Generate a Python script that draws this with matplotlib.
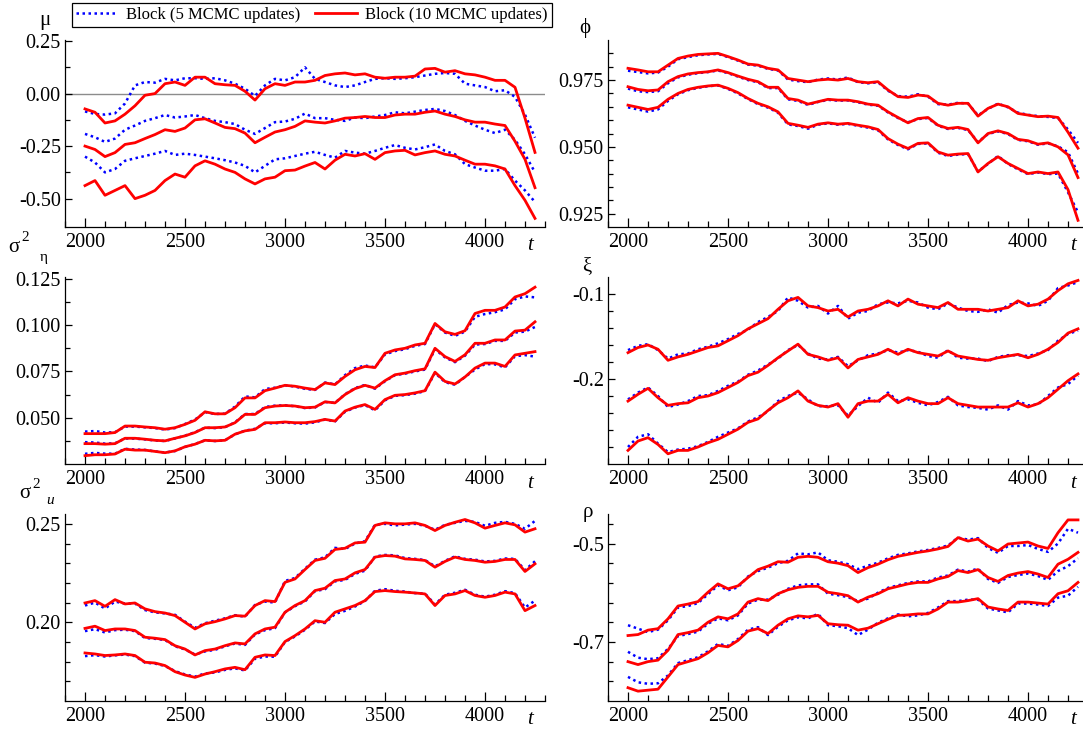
import matplotlib
matplotlib.use('Agg')
import matplotlib.pyplot as plt
import matplotlib.ticker as ticker
from matplotlib.lines import Line2D

plt.rcParams['font.family'] = ['Liberation Serif', 'DejaVu Serif']
plt.rcParams['axes.unicode_minus'] = False

# time grid (every 50 steps)
T = [2000, 2050, 2100, 2150, 2200, 2250, 2300, 2350, 2400, 2450,
     2500, 2550, 2600, 2650, 2700, 2750, 2800, 2850, 2900, 2950,
     3000, 3050, 3100, 3150, 3200, 3250, 3300, 3350, 3400, 3450,
     3500, 3550, 3600, 3650, 3700, 3750, 3800, 3850, 3900, 3950,
     4000, 4050, 4100, 4150, 4200, 4250]

# ---- mu ----
mu_red_hi = [-0.073, -0.089, -0.140, -0.130, -0.098, -0.058, -0.008, 0.000, 0.047, 0.055,
             0.039, 0.078, 0.078, 0.047, 0.042, 0.039, 0.011, -0.031, 0.023, 0.047,
             0.039, 0.055, 0.055, 0.063, 0.086, 0.094, 0.098, 0.089, 0.094, 0.078,
             0.073, 0.078, 0.078, 0.083, 0.117, 0.120, 0.102, 0.109, 0.094, 0.089,
             0.078, 0.063, 0.063, 0.030, -0.117, -0.280]
mu_blue_hi = [-0.085, -0.097, -0.100, -0.094, -0.047, 0.039, 0.055, 0.052, 0.070, 0.063,
              0.073, 0.073, 0.070, 0.073, 0.063, 0.047, 0.023, -0.011, 0.039, 0.070,
              0.063, 0.078, 0.125, 0.070, 0.055, 0.039, 0.031, 0.039, 0.055, 0.070,
              0.073, 0.070, 0.073, 0.078, 0.086, 0.094, 0.098, 0.094, 0.047, 0.039,
              0.031, 0.011, 0.016, -0.016, -0.100, -0.210]
mu_red_mid = [-0.250, -0.266, -0.300, -0.281, -0.242, -0.234, -0.214, -0.195, -0.172, -0.180,
              -0.164, -0.125, -0.120, -0.140, -0.161, -0.167, -0.188, -0.234, -0.208, -0.183,
              -0.172, -0.156, -0.130, -0.136, -0.140, -0.130, -0.117, -0.114, -0.109, -0.114,
              -0.114, -0.102, -0.098, -0.098, -0.089, -0.083, -0.098, -0.109, -0.125, -0.136,
              -0.136, -0.145, -0.152, -0.227, -0.313, -0.448]
mu_blue_mid = [-0.192, -0.208, -0.230, -0.214, -0.172, -0.152, -0.130, -0.117, -0.102, -0.114,
               -0.109, -0.102, -0.117, -0.130, -0.136, -0.145, -0.172, -0.192, -0.164, -0.136,
               -0.133, -0.120, -0.095, -0.117, -0.117, -0.125, -0.130, -0.114, -0.117, -0.109,
               -0.102, -0.089, -0.094, -0.086, -0.078, -0.073, -0.083, -0.102, -0.130, -0.152,
               -0.172, -0.188, -0.172, -0.220, -0.289, -0.375]
mu_red_lo = [-0.438, -0.414, -0.484, -0.461, -0.438, -0.500, -0.484, -0.461, -0.414, -0.383,
             -0.398, -0.344, -0.320, -0.336, -0.359, -0.375, -0.406, -0.430, -0.406, -0.398,
             -0.367, -0.364, -0.345, -0.328, -0.359, -0.317, -0.289, -0.297, -0.286, -0.313,
             -0.281, -0.273, -0.270, -0.292, -0.281, -0.273, -0.289, -0.297, -0.317, -0.336,
             -0.336, -0.344, -0.359, -0.438, -0.508, -0.594]
mu_blue_lo = [-0.300, -0.328, -0.375, -0.359, -0.320, -0.308, -0.297, -0.286, -0.273, -0.292,
              -0.286, -0.292, -0.300, -0.308, -0.317, -0.328, -0.344, -0.375, -0.344, -0.313,
              -0.308, -0.297, -0.286, -0.277, -0.292, -0.305, -0.273, -0.281, -0.286, -0.273,
              -0.258, -0.245, -0.258, -0.266, -0.255, -0.242, -0.273, -0.289, -0.336, -0.352,
              -0.367, -0.367, -0.359, -0.414, -0.461, -0.516]

# ---- phi ----
phi_red_hi = [0.9794, 0.9788, 0.9781, 0.9781, 0.9806, 0.9831, 0.9840, 0.9846, 0.9848, 0.9850,
              0.9838, 0.9825, 0.9810, 0.9806, 0.9794, 0.9788, 0.9756, 0.9750, 0.9744, 0.9750,
              0.9753, 0.9750, 0.9756, 0.9744, 0.9740, 0.9744, 0.9713, 0.9688, 0.9685, 0.9694,
              0.9690, 0.9663, 0.9656, 0.9663, 0.9663, 0.9615, 0.9644, 0.9660, 0.9650, 0.9625,
              0.9619, 0.9613, 0.9615, 0.9610, 0.9555, 0.9495]
phi_blue_hi = [0.9785, 0.9780, 0.9775, 0.9778, 0.9800, 0.9828, 0.9836, 0.9843, 0.9846, 0.9848,
               0.9836, 0.9823, 0.9808, 0.9804, 0.9792, 0.9786, 0.9752, 0.9746, 0.9742, 0.9752,
               0.9756, 0.9752, 0.9760, 0.9742, 0.9738, 0.9742, 0.9710, 0.9690, 0.9688, 0.9697,
               0.9688, 0.9660, 0.9658, 0.9665, 0.9662, 0.9618, 0.9642, 0.9662, 0.9648, 0.9628,
               0.9620, 0.9615, 0.9612, 0.9608, 0.9565, 0.9515]
phi_red_mid = [0.9725, 0.9715, 0.9710, 0.9713, 0.9744, 0.9763, 0.9773, 0.9778, 0.9781, 0.9788,
               0.9778, 0.9765, 0.9753, 0.9744, 0.9723, 0.9723, 0.9681, 0.9675, 0.9660, 0.9669,
               0.9678, 0.9675, 0.9675, 0.9669, 0.9660, 0.9656, 0.9631, 0.9610, 0.9590, 0.9606,
               0.9610, 0.9581, 0.9569, 0.9573, 0.9565, 0.9515, 0.9550, 0.9560, 0.9550, 0.9528,
               0.9523, 0.9510, 0.9515, 0.9500, 0.9470, 0.9385]
phi_blue_mid = [0.9718, 0.9708, 0.9705, 0.9708, 0.9738, 0.9760, 0.9770, 0.9776, 0.9780, 0.9786,
                0.9776, 0.9763, 0.9750, 0.9742, 0.9720, 0.9720, 0.9678, 0.9672, 0.9657, 0.9668,
                0.9676, 0.9673, 0.9674, 0.9667, 0.9658, 0.9654, 0.9629, 0.9608, 0.9592, 0.9604,
                0.9608, 0.9579, 0.9567, 0.9571, 0.9563, 0.9518, 0.9548, 0.9558, 0.9548, 0.9526,
                0.9521, 0.9508, 0.9513, 0.9502, 0.9480, 0.9400]
phi_red_lo = [0.9656, 0.9648, 0.9640, 0.9648, 0.9678, 0.9700, 0.9715, 0.9723, 0.9728, 0.9731,
              0.9719, 0.9703, 0.9681, 0.9663, 0.9650, 0.9631, 0.9588, 0.9581, 0.9573, 0.9585,
              0.9590, 0.9585, 0.9588, 0.9581, 0.9575, 0.9565, 0.9531, 0.9510, 0.9494, 0.9513,
              0.9515, 0.9481, 0.9469, 0.9473, 0.9475, 0.9406, 0.9438, 0.9463, 0.9438, 0.9419,
              0.9400, 0.9406, 0.9400, 0.9406, 0.9340, 0.9225]
phi_blue_lo = [0.9648, 0.9640, 0.9632, 0.9640, 0.9672, 0.9697, 0.9712, 0.9721, 0.9727, 0.9730,
               0.9717, 0.9700, 0.9679, 0.9660, 0.9647, 0.9628, 0.9584, 0.9578, 0.9568, 0.9583,
               0.9588, 0.9583, 0.9586, 0.9579, 0.9572, 0.9562, 0.9528, 0.9507, 0.9491, 0.9511,
               0.9513, 0.9478, 0.9466, 0.9471, 0.9473, 0.9408, 0.9436, 0.9466, 0.9436, 0.9416,
               0.9398, 0.9404, 0.9398, 0.9400, 0.9330, 0.9255]

# ---- sigma^2_eta ----
seta_red_hi = [0.0414, 0.0414, 0.0414, 0.0420, 0.0455, 0.0455, 0.0450, 0.0446, 0.0438, 0.0446,
               0.0464, 0.0486, 0.0532, 0.0521, 0.0521, 0.0554, 0.0607, 0.0607, 0.0646, 0.0660,
               0.0675, 0.0670, 0.0660, 0.0652, 0.0688, 0.0679, 0.0723, 0.0759, 0.0777, 0.0771,
               0.0848, 0.0866, 0.0875, 0.0893, 0.0902, 0.1009, 0.0964, 0.0950, 0.0970, 0.1063,
               0.1080, 0.1080, 0.1098, 0.1152, 0.1170, 0.1205]
seta_blue_hi = [0.0425, 0.0428, 0.0420, 0.0422, 0.0452, 0.0452, 0.0448, 0.0444, 0.0436, 0.0444,
                0.0466, 0.0490, 0.0530, 0.0520, 0.0522, 0.0560, 0.0615, 0.0610, 0.0655, 0.0662,
                0.0675, 0.0668, 0.0656, 0.0650, 0.0690, 0.0680, 0.0730, 0.0768, 0.0782, 0.0772,
                0.0842, 0.0860, 0.0870, 0.0888, 0.0898, 0.1005, 0.0960, 0.0942, 0.0965, 0.1045,
                0.1060, 0.1070, 0.1085, 0.1140, 0.1155, 0.1150]
seta_red_mid = [0.0360, 0.0360, 0.0357, 0.0360, 0.0389, 0.0389, 0.0384, 0.0378, 0.0375, 0.0389,
                0.0402, 0.0420, 0.0446, 0.0446, 0.0450, 0.0473, 0.0518, 0.0518, 0.0554, 0.0563,
                0.0566, 0.0563, 0.0554, 0.0557, 0.0586, 0.0580, 0.0625, 0.0657, 0.0675, 0.0660,
                0.0700, 0.0732, 0.0741, 0.0754, 0.0764, 0.0875, 0.0830, 0.0804, 0.0840, 0.0902,
                0.0902, 0.0920, 0.0920, 0.0968, 0.0973, 0.1018]
seta_blue_mid = [0.0368, 0.0366, 0.0360, 0.0362, 0.0388, 0.0387, 0.0383, 0.0377, 0.0374, 0.0388,
                 0.0403, 0.0422, 0.0446, 0.0444, 0.0449, 0.0475, 0.0520, 0.0520, 0.0558, 0.0565,
                 0.0567, 0.0562, 0.0552, 0.0555, 0.0585, 0.0580, 0.0627, 0.0660, 0.0677, 0.0657,
                 0.0697, 0.0730, 0.0738, 0.0750, 0.0760, 0.0870, 0.0826, 0.0800, 0.0835, 0.0895,
                 0.0898, 0.0915, 0.0915, 0.0960, 0.0965, 0.0990]
seta_red_lo = [0.0295, 0.0300, 0.0300, 0.0304, 0.0330, 0.0325, 0.0325, 0.0318, 0.0311, 0.0321,
               0.0343, 0.0357, 0.0378, 0.0375, 0.0378, 0.0411, 0.0429, 0.0437, 0.0473, 0.0473,
               0.0477, 0.0473, 0.0473, 0.0479, 0.0491, 0.0482, 0.0536, 0.0557, 0.0571, 0.0545,
               0.0598, 0.0621, 0.0625, 0.0634, 0.0646, 0.0746, 0.0696, 0.0682, 0.0720, 0.0768,
               0.0795, 0.0795, 0.0777, 0.0839, 0.0848, 0.0857]
seta_blue_lo = [0.0305, 0.0310, 0.0306, 0.0306, 0.0332, 0.0328, 0.0326, 0.0318, 0.0312, 0.0320,
                0.0342, 0.0358, 0.0378, 0.0374, 0.0378, 0.0410, 0.0430, 0.0440, 0.0470, 0.0470,
                0.0474, 0.0470, 0.0468, 0.0475, 0.0490, 0.0480, 0.0532, 0.0555, 0.0568, 0.0540,
                0.0594, 0.0618, 0.0622, 0.0630, 0.0644, 0.0742, 0.0692, 0.0678, 0.0720, 0.0760,
                0.0790, 0.0788, 0.0772, 0.0832, 0.0838, 0.0830]

# ---- xi ----
xi_red_hi = [-0.169, -0.163, -0.160, -0.165, -0.178, -0.174, -0.171, -0.167, -0.163, -0.161,
             -0.155, -0.149, -0.141, -0.135, -0.129, -0.118, -0.108, -0.104, -0.114, -0.116,
             -0.120, -0.118, -0.127, -0.120, -0.118, -0.114, -0.108, -0.114, -0.106, -0.112,
             -0.114, -0.116, -0.110, -0.118, -0.118, -0.118, -0.120, -0.118, -0.116, -0.108,
             -0.114, -0.112, -0.106, -0.096, -0.088, -0.084]
xi_blue_hi = [-0.166, -0.161, -0.159, -0.166, -0.176, -0.171, -0.170, -0.165, -0.162, -0.158,
              -0.153, -0.147, -0.142, -0.133, -0.127, -0.120, -0.104, -0.108, -0.116, -0.114,
              -0.123, -0.114, -0.129, -0.122, -0.120, -0.112, -0.110, -0.111, -0.108, -0.110,
              -0.116, -0.118, -0.111, -0.116, -0.120, -0.121, -0.118, -0.122, -0.113, -0.110,
              -0.111, -0.114, -0.108, -0.093, -0.090, -0.086]
xi_red_mid = [-0.226, -0.218, -0.211, -0.222, -0.231, -0.229, -0.228, -0.222, -0.220, -0.216,
              -0.210, -0.204, -0.196, -0.192, -0.184, -0.175, -0.167, -0.159, -0.171, -0.174,
              -0.178, -0.175, -0.187, -0.177, -0.174, -0.171, -0.165, -0.171, -0.165, -0.169,
              -0.171, -0.173, -0.167, -0.173, -0.175, -0.177, -0.178, -0.175, -0.173, -0.171,
              -0.175, -0.171, -0.165, -0.157, -0.146, -0.141]
xi_blue_mid = [-0.224, -0.216, -0.210, -0.220, -0.233, -0.230, -0.226, -0.220, -0.219, -0.214,
               -0.208, -0.203, -0.195, -0.190, -0.183, -0.176, -0.166, -0.160, -0.170, -0.176,
               -0.177, -0.174, -0.185, -0.178, -0.172, -0.170, -0.166, -0.169, -0.166, -0.168,
               -0.173, -0.175, -0.166, -0.175, -0.176, -0.176, -0.179, -0.174, -0.172, -0.172,
               -0.173, -0.170, -0.166, -0.155, -0.147, -0.143]
xi_red_lo = [-0.284, -0.273, -0.269, -0.277, -0.288, -0.284, -0.284, -0.280, -0.275, -0.271,
             -0.265, -0.259, -0.251, -0.247, -0.237, -0.228, -0.222, -0.214, -0.226, -0.231,
             -0.233, -0.229, -0.245, -0.229, -0.226, -0.226, -0.218, -0.228, -0.222, -0.226,
             -0.229, -0.229, -0.222, -0.229, -0.231, -0.233, -0.233, -0.233, -0.233, -0.228,
             -0.233, -0.229, -0.222, -0.212, -0.202, -0.194]
xi_blue_lo = [-0.280, -0.268, -0.265, -0.276, -0.286, -0.283, -0.282, -0.279, -0.274, -0.268,
              -0.263, -0.258, -0.250, -0.245, -0.238, -0.226, -0.220, -0.216, -0.224, -0.232,
              -0.232, -0.231, -0.243, -0.232, -0.222, -0.228, -0.216, -0.226, -0.224, -0.228,
              -0.231, -0.227, -0.221, -0.231, -0.233, -0.234, -0.236, -0.231, -0.236, -0.226,
              -0.231, -0.230, -0.220, -0.210, -0.206, -0.196]

# ---- sigma^2_u ----
su_red_hi = [0.2098, 0.2110, 0.2081, 0.2115, 0.2093, 0.2098, 0.2068, 0.2054, 0.2047, 0.2034,
             0.2000, 0.1966, 0.1992, 0.2003, 0.2017, 0.2034, 0.2031, 0.2085, 0.2110, 0.2105,
             0.2203, 0.2220, 0.2268, 0.2314, 0.2325, 0.2370, 0.2376, 0.2403, 0.2407, 0.2492,
             0.2505, 0.2500, 0.2500, 0.2505, 0.2492, 0.2466, 0.2492, 0.2508, 0.2522, 0.2505,
             0.2478, 0.2492, 0.2505, 0.2495, 0.2458, 0.2475]
su_blue_hi = [0.2085, 0.2100, 0.2070, 0.2105, 0.2095, 0.2095, 0.2062, 0.2050, 0.2045, 0.2038,
              0.2003, 0.1972, 0.1995, 0.2008, 0.2020, 0.2036, 0.2028, 0.2088, 0.2105, 0.2100,
              0.2210, 0.2225, 0.2272, 0.2318, 0.2330, 0.2378, 0.2372, 0.2400, 0.2412, 0.2495,
              0.2500, 0.2492, 0.2496, 0.2500, 0.2490, 0.2470, 0.2495, 0.2505, 0.2515, 0.2510,
              0.2490, 0.2505, 0.2510, 0.2500, 0.2475, 0.2515]
su_red_mid = [0.1969, 0.1980, 0.1958, 0.1966, 0.1966, 0.1958, 0.1924, 0.1919, 0.1912, 0.1881,
              0.1864, 0.1834, 0.1856, 0.1864, 0.1881, 0.1895, 0.1890, 0.1941, 0.1966, 0.1975,
              0.2051, 0.2085, 0.2110, 0.2161, 0.2173, 0.2212, 0.2220, 0.2251, 0.2268, 0.2331,
              0.2339, 0.2336, 0.2322, 0.2319, 0.2314, 0.2280, 0.2309, 0.2331, 0.2319, 0.2314,
              0.2305, 0.2309, 0.2319, 0.2319, 0.2258, 0.2297]
su_blue_mid = [0.1955, 0.1965, 0.1948, 0.1960, 0.1962, 0.1955, 0.1920, 0.1916, 0.1910, 0.1878,
               0.1862, 0.1836, 0.1852, 0.1860, 0.1878, 0.1892, 0.1885, 0.1938, 0.1960, 0.1970,
               0.2050, 0.2082, 0.2106, 0.2158, 0.2168, 0.2208, 0.2215, 0.2246, 0.2262, 0.2334,
               0.2342, 0.2340, 0.2326, 0.2322, 0.2316, 0.2284, 0.2312, 0.2335, 0.2322, 0.2318,
               0.2309, 0.2312, 0.2324, 0.2322, 0.2265, 0.2310]
su_red_lo = [0.1844, 0.1839, 0.1831, 0.1834, 0.1839, 0.1831, 0.1797, 0.1793, 0.1780, 0.1749,
             0.1732, 0.1720, 0.1737, 0.1749, 0.1763, 0.1771, 0.1759, 0.1822, 0.1834, 0.1831,
             0.1902, 0.1932, 0.1966, 0.2008, 0.2000, 0.2051, 0.2068, 0.2085, 0.2110, 0.2156,
             0.2161, 0.2156, 0.2153, 0.2149, 0.2144, 0.2085, 0.2136, 0.2144, 0.2161, 0.2136,
             0.2127, 0.2136, 0.2153, 0.2144, 0.2059, 0.2085]
su_blue_lo = [0.1828, 0.1833, 0.1826, 0.1832, 0.1836, 0.1828, 0.1795, 0.1790, 0.1778, 0.1752,
              0.1735, 0.1724, 0.1740, 0.1745, 0.1758, 0.1766, 0.1755, 0.1815, 0.1826, 0.1825,
              0.1900, 0.1928, 0.1962, 0.2004, 0.1996, 0.2042, 0.2058, 0.2080, 0.2108, 0.2160,
              0.2168, 0.2160, 0.2156, 0.2148, 0.2146, 0.2090, 0.2140, 0.2150, 0.2165, 0.2140,
              0.2130, 0.2140, 0.2158, 0.2148, 0.2075, 0.2110]

# ---- rho ----
rho_red_hi = [-0.687, -0.685, -0.676, -0.673, -0.653, -0.627, -0.623, -0.618, -0.599, -0.582,
              -0.592, -0.586, -0.569, -0.553, -0.546, -0.537, -0.538, -0.528, -0.526, -0.528,
              -0.537, -0.540, -0.545, -0.559, -0.549, -0.542, -0.533, -0.526, -0.522, -0.518,
              -0.515, -0.511, -0.506, -0.488, -0.495, -0.491, -0.505, -0.515, -0.501, -0.499,
              -0.497, -0.505, -0.510, -0.478, -0.452, -0.452]
rho_blue_hi = [-0.666, -0.673, -0.680, -0.675, -0.656, -0.630, -0.627, -0.621, -0.603, -0.585,
               -0.595, -0.589, -0.567, -0.556, -0.549, -0.540, -0.535, -0.520, -0.522, -0.518,
               -0.534, -0.537, -0.542, -0.552, -0.545, -0.539, -0.530, -0.523, -0.520, -0.516,
               -0.513, -0.509, -0.504, -0.488, -0.492, -0.489, -0.509, -0.519, -0.505, -0.505,
               -0.503, -0.511, -0.517, -0.500, -0.470, -0.478]
rho_red_mid = [-0.740, -0.746, -0.740, -0.737, -0.717, -0.685, -0.681, -0.676, -0.660, -0.649,
               -0.653, -0.643, -0.619, -0.612, -0.616, -0.602, -0.594, -0.589, -0.587, -0.587,
               -0.599, -0.602, -0.606, -0.619, -0.609, -0.602, -0.592, -0.587, -0.582, -0.579,
               -0.579, -0.572, -0.567, -0.555, -0.559, -0.553, -0.569, -0.577, -0.565, -0.560,
               -0.557, -0.562, -0.569, -0.542, -0.532, -0.518]
rho_blue_mid = [-0.720, -0.732, -0.735, -0.733, -0.714, -0.688, -0.684, -0.679, -0.663, -0.652,
                -0.656, -0.646, -0.622, -0.614, -0.614, -0.604, -0.592, -0.585, -0.583, -0.583,
                -0.602, -0.605, -0.609, -0.617, -0.612, -0.600, -0.590, -0.585, -0.580, -0.577,
                -0.577, -0.569, -0.565, -0.553, -0.557, -0.551, -0.572, -0.580, -0.568, -0.564,
                -0.561, -0.566, -0.574, -0.556, -0.546, -0.530]
rho_red_lo = [-0.793, -0.800, -0.798, -0.796, -0.771, -0.746, -0.740, -0.734, -0.722, -0.707,
              -0.710, -0.697, -0.678, -0.673, -0.683, -0.666, -0.653, -0.647, -0.649, -0.646,
              -0.663, -0.665, -0.666, -0.676, -0.672, -0.663, -0.654, -0.646, -0.645, -0.643,
              -0.643, -0.633, -0.619, -0.619, -0.616, -0.612, -0.629, -0.633, -0.636, -0.619,
              -0.619, -0.621, -0.623, -0.602, -0.596, -0.579]
rho_blue_lo = [-0.771, -0.782, -0.785, -0.784, -0.768, -0.743, -0.737, -0.731, -0.719, -0.704,
               -0.708, -0.694, -0.675, -0.670, -0.686, -0.669, -0.656, -0.650, -0.652, -0.643,
               -0.666, -0.668, -0.672, -0.686, -0.675, -0.661, -0.652, -0.644, -0.648, -0.646,
               -0.641, -0.630, -0.617, -0.617, -0.614, -0.614, -0.632, -0.636, -0.640, -0.622,
               -0.622, -0.624, -0.627, -0.610, -0.606, -0.588]

legend_labels = ['Block (5 MCMC updates)', 'Block (10 MCMC updates)']

BLUE = '#0000ff'
RED = '#ff0000'
DOT = (0, (1, 1.4))

W, H = 1083, 729
fig = plt.figure(figsize=(W / 100, H / 100), dpi=100)


def px_axes(x0, top, x1, bottom):
    return fig.add_axes([x0 / W, 1 - bottom / H, (x1 - x0) / W, (bottom - top) / H])


cols = [(65, 545), (608, 1088)]
rows = [(40, 227), (277, 464), (514, 701)]

panels = [
    dict(col=0, row=0, blue=[mu_blue_hi, mu_blue_mid, mu_blue_lo],
         red=[mu_red_hi, mu_red_mid, mu_red_lo], ylim=(-0.635, 0.255),
         major=[-0.5, -0.25, 0.0, 0.25], minor=[-0.375, -0.125, 0.125], fmt='%.2f'),
    dict(col=1, row=0, blue=[phi_blue_hi, phi_blue_mid, phi_blue_lo],
         red=[phi_red_hi, phi_red_mid, phi_red_lo], ylim=(0.92, 0.99),
         major=[0.925, 0.95, 0.975],
         minor=[0.93, 0.935, 0.94, 0.945, 0.955, 0.96, 0.965, 0.97, 0.98, 0.985], fmt='%.3f'),
    dict(col=0, row=1, blue=[seta_blue_hi, seta_blue_mid, seta_blue_lo],
         red=[seta_red_hi, seta_red_mid, seta_red_lo], ylim=(0.025, 0.126),
         major=[0.05, 0.075, 0.1, 0.125], minor=[0.0375, 0.0625, 0.0875, 0.1125], fmt='%.3f'),
    dict(col=1, row=1, blue=[xi_blue_hi, xi_blue_mid, xi_blue_lo],
         red=[xi_red_hi, xi_red_mid, xi_red_lo], ylim=(-0.30, -0.08),
         major=[-0.2, -0.1], minor=[-0.28, -0.26, -0.24, -0.22, -0.18, -0.16, -0.14, -0.12],
         fmt='%.1f'),
    dict(col=0, row=2, blue=[su_blue_hi, su_blue_mid, su_blue_lo],
         red=[su_red_hi, su_red_mid, su_red_lo], ylim=(0.16, 0.255),
         major=[0.2, 0.25], minor=[0.17, 0.18, 0.19, 0.21, 0.22, 0.23, 0.24], fmt='%.2f'),
    dict(col=1, row=2, blue=[rho_blue_hi, rho_blue_mid, rho_blue_lo],
         red=[rho_red_hi, rho_red_mid, rho_red_lo], ylim=(-0.82, -0.44),
         major=[-0.7, -0.5], minor=[-0.78, -0.74, -0.66, -0.62, -0.58, -0.54, -0.46],
         fmt='%.1f'),
]

for p in panels:
    x0, x1 = cols[p['col']]
    top, bottom = rows[p['row']]
    ax = px_axes(x0, top, x1, bottom)

    if p['row'] == 0 and p['col'] == 0:
        ax.axhline(0.0, color='#8c8c8c', lw=1.0, zorder=1)

    for b in p['blue']:
        ax.plot(T, b, color=BLUE, ls=DOT, lw=1.8, zorder=2)
    for r in p['red']:
        ax.plot(T, r, color=RED, lw=2.0, zorder=3)

    ax.set_xlim(1900, 4300)
    ax.set_ylim(*p['ylim'])
    ax.xaxis.set_major_locator(ticker.MultipleLocator(500))
    ax.xaxis.set_minor_locator(ticker.MultipleLocator(100))
    ax.yaxis.set_major_locator(ticker.FixedLocator(p['major']))
    ax.yaxis.set_minor_locator(ticker.FixedLocator(p['minor']))
    ax.yaxis.set_major_formatter(ticker.FormatStrFormatter(p['fmt']))
    ax.xaxis.set_major_formatter(ticker.FormatStrFormatter('%d'))

    ax.tick_params(axis='x', which='major', direction='in', length=6.5, width=0.9,
                   labelsize=14.5, pad=4)
    ax.tick_params(axis='x', which='minor', direction='in', length=4.5, width=0.9)
    ax.tick_params(axis='y', which='major', direction='in', length=5, width=0.9,
                   labelsize=14.5, pad=3)
    ax.tick_params(axis='y', which='minor', direction='in', length=3.4, width=0.9)

    for s in ['top', 'right']:
        ax.spines[s].set_visible(False)
    for s in ['left', 'bottom']:
        ax.spines[s].set_linewidth(0.9)
    ax.patch.set_alpha(0)

    # italic "t" at the end of each time axis
    fig.text((x1 - 15) / W, 1 - (bottom + 19) / H, 't', style='italic', fontsize=15,
             ha='center', va='center')


def label(x, y, s, size=15, **kw):
    fig.text(x / W, 1 - y / H, s, fontsize=size, ha='center', va='center', **kw)


label(45, 20, 'μ')
label(585, 28, 'ϕ')
label(14, 248, 'σ')
label(25, 238, '2', size=11)
label(44, 258, 'η', size=11)
label(587, 267, 'ξ')
label(25, 493, 'σ')
label(36, 484, '2', size=11)
label(50, 501, 'u', size=11, style='italic')
label(588, 513, 'ρ')

handles = [Line2D([], [], color=BLUE, ls=DOT, lw=1.8),
           Line2D([], [], color=RED, lw=2.0)]
leg = fig.legend(handles, legend_labels, loc='upper left', bbox_to_anchor=(72 / W, 1 - 3 / H),
                 ncol=2, frameon=True, fancybox=False, edgecolor='black', framealpha=1,
                 fontsize=12, handlelength=2.5, handletextpad=0.5, columnspacing=0.9,
                 borderpad=0.25, borderaxespad=0)
leg.get_frame().set_linewidth(0.9)

fig.savefig('out.png', dpi=100)
